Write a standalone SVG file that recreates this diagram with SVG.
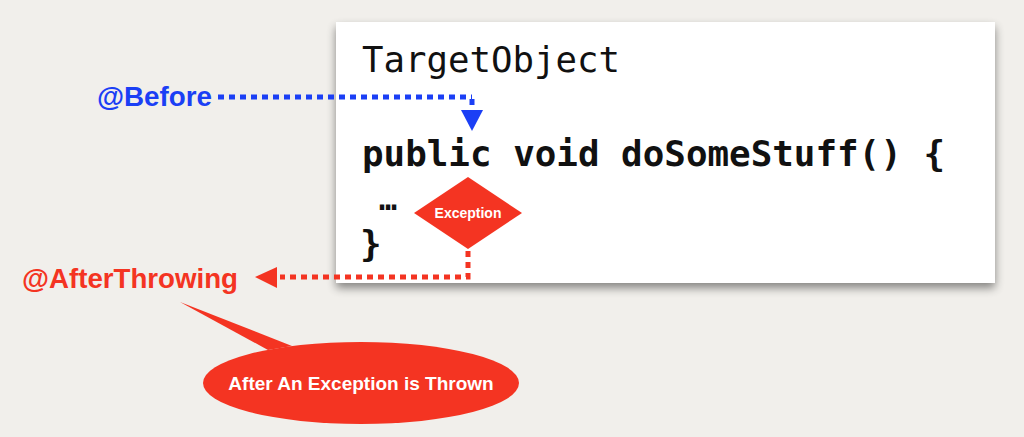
<svg xmlns="http://www.w3.org/2000/svg" width="1024" height="437" viewBox="0 0 1024 437">
  <defs>
    <filter id="cardShadow" x="-5%" y="-10%" width="110%" height="125%">
      <feGaussianBlur in="SourceAlpha" stdDeviation="5"/>
      <feOffset dx="0" dy="5" result="b"/>
      <feComponentTransfer><feFuncA type="linear" slope="0.45"/></feComponentTransfer>
      <feMerge><feMergeNode/><feMergeNode in="SourceGraphic"/></feMerge>
    </filter>
  </defs>
  <style>
    .code { font-family: "DejaVu Sans Mono", "Liberation Mono", monospace; fill: #111; }
    .label { font-family: "Liberation Sans", Arial, sans-serif; font-weight: bold; }
    .dotted { fill: none; stroke-width: 5; stroke-dasharray: 6 5; }
  </style>

  <!-- background -->
  <rect width="1024" height="437" fill="#f1efeb"/>

  <!-- code card -->
  <g id="target-object">
    <rect x="336" y="22" width="659" height="261" fill="#ffffff" filter="url(#cardShadow)"/>
    <text class="code" x="362" y="72" font-size="36" textLength="258" lengthAdjust="spacingAndGlyphs">TargetObject</text>
    <text class="code" x="362" y="166" font-size="36" font-weight="bold" textLength="583" lengthAdjust="spacingAndGlyphs">public void doSomeStuff() {</text>
    <text class="code" x="379" y="210" font-size="30" font-weight="bold">…</text>
    <text class="code" x="360" y="256" font-size="36" font-weight="bold">}</text>
  </g>

  <!-- exception diamond -->
  <g id="exception">
    <polygon points="468,177 522,213 468,249 414,213" fill="#f43422"/>
    <text class="label" x="468" y="218" font-size="14" fill="#ffffff" text-anchor="middle">Exception</text>
  </g>

  <!-- advice labels -->
  <g id="before">
    <text class="label" x="97" y="106" font-size="27" fill="#1b3ff5" textLength="115" lengthAdjust="spacingAndGlyphs">@Before</text>
  </g>
  <g id="after-throwing">
    <text class="label" x="22" y="288" font-size="28" fill="#f43422" textLength="216" lengthAdjust="spacingAndGlyphs">@AfterThrowing</text>
  </g>

  <!-- callout -->
  <g id="callout">
    <polygon points="180,302 292,346 268,350" fill="#f43422"/>
    <ellipse cx="361" cy="383" rx="158" ry="41" fill="#f43422"/>
    <text class="label" x="361" y="390" font-size="19" fill="#ffffff" text-anchor="middle">After An Exception is Thrown</text>
  </g>

  <!-- connectors -->
  <g id="connectors">
    <path class="dotted" d="M218,97 H472" stroke="#1b3ff5"/>
    <path class="dotted" d="M472,99 V110" stroke="#1b3ff5"/>
    <polygon points="461,110 483,110 472,131" fill="#1b3ff5"/>
    <path class="dotted" d="M468,251 V277 H280" stroke="#f43422"/>
    <polygon points="277,267 277,288 255,277" fill="#f43422"/>
  </g>
</svg>
